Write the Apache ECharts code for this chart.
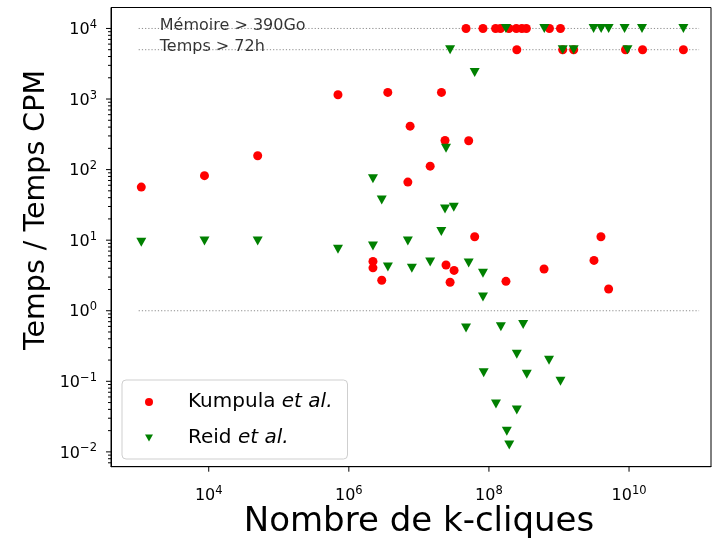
<!DOCTYPE html>
<html><head><meta charset="utf-8">
<script src="https://cdn.jsdelivr.net/npm/echarts@6/dist/echarts.min.js"></script>
<style>html,body{margin:0;padding:0;background:#fff}#c{width:719px;height:543px}</style>
</head><body><div id="c"></div>
<script>
// ---- data ----
const kumpulaX = [1.09e3, 8.7e3, 5.0e4, 7.0e5, 3.6e6, 2.1e7, 7.5e6, 2.36e7, 5.14e7, 1.45e7, 6.96e6, 6.26e7,
  2.21e6, 2.21e6, 2.95e6, 2.44e7, 3.18e7, 2.79e7, 1.75e8, 6.12e8, 3.97e9, 3.16e9, 5.11e9,
  4.71e7, 8.22e7, 1.245e8, 1.46e8, 1.93e8, 2.46e8, 2.95e8, 3.42e8, 7.31e8, 1.05e9,
  2.5e8, 1.13e9, 1.62e9, 8.9e9, 1.56e10, 5.97e10];
const kumpulaY = [56.5, 82, 157, 1150, 1240, 1240, 413, 258, 256, 112, 66.5, 11.2,
  5.0, 4.05, 2.70, 4.44, 3.73, 2.53, 2.61, 3.90, 11.2, 5.17, 2.03,
  1e4, 1e4, 1e4, 1e4, 1e4, 1e4, 1e4, 1e4, 1e4, 1e4,
  5e3, 5e3, 5e3, 5e3, 5e3, 5e3];
const reidX = [1.09e3, 8.7e3, 5.0e4, 7.0e5, 2.21e6, 2.21e6, 2.95e6, 3.61e6, 6.96e6, 7.94e6, 1.45e7, 2.09e7,
  2.36e7, 3.15e7, 2.44e7, 6.26e7, 5.14e7, 8.22e7, 8.22e7, 4.71e7, 1.48e8, 3.08e8, 2.5e8, 7.21e8,
  8.41e7, 3.47e8, 1.05e9, 1.26e8, 2.5e8, 1.8e8, 1.95e8,
  1.75e8, 6.17e8, 3.12e9, 4.0e9, 5.11e9, 8.63e9, 1.53e10, 5.97e10,
  2.79e7, 1.13e9, 1.62e9, 9.5e9];
const reidY = [9.31, 9.71, 9.71, 7.41, 8.25, 74.1, 37.0, 4.16, 9.71, 3.99, 4.90, 13.3,
  27.6, 29.2, 200, 2382, 4.74, 3.39, 1.56, 0.569, 0.593, 0.638, 0.241, 0.198,
  0.132, 0.126, 0.100, 0.0477, 0.0392, 0.0196, 0.0125,
  1e4, 1e4, 1e4, 1e4, 1e4, 1e4, 1e4, 1e4,
  5e3, 5e3, 5e3, 5e3];
const thresholdY = [1e4, 5e3, 1];
const thresholdX = [1e3, 1e11];
const annotTexts = ['Mémoire > 390Go', 'Temps > 72h'];
const annotY = [1e4, 5e3];
const annotX = 2e3;
const xMajorTicks = [1e4, 1e6, 1e8, 1e10];
const yMajorTicks = [1e-2, 1e-1, 1e0, 1e1, 1e2, 1e3, 1e4];
const seriesNames = ['Kumpula et al.', 'Reid et al.'];

// ---- chart ----
const X_MIN = Math.pow(10, 2.605), X_MAX = Math.pow(10, 11.17);
const Y_MIN = Math.pow(10, -2.21), Y_MAX = Math.pow(10, 4.297);
const FONT = 'DejaVu Sans';

const yMinorTicks = [];
for (let k = -3; k <= 4; k++) for (let m = 2; m <= 9; m++) {
  const v = m * Math.pow(10, k);
  if (v > Y_MIN && v < Y_MAX) yMinorTicks.push(v);
}

function supLabel(v, step) {
  const l = Math.log10(v);
  const e = Math.round(l);
  if (Math.abs(l - e) > 1e-6) return '';
  if (step && e % step !== 0) return '';
  const s = e < 0 ? '\u2212' + (-e) : String(e);
  return '{b|10}{s|' + s + '}';
}
const labelRich = {
  b: {fontSize: 16, fontFamily: FONT, color: '#000', verticalAlign: 'bottom', lineHeight: 19},
  s: {fontSize: 11.5, fontFamily: FONT, color: '#000', verticalAlign: 'top', lineHeight: 9}
};

function tickSeries(data, vertical, len) {
  return {
    type: 'custom', silent: true, clip: false, z: 5,
    data: data,
    encode: {x: 0, y: 1},
    renderItem: function (params, api) {
      const p = api.coord([api.value(0), api.value(1)]);
      const shape = vertical
        ? {x1: p[0], y1: p[1], x2: p[0], y2: p[1] + len}
        : {x1: p[0] - len, y1: p[1], x2: p[0], y2: p[1]};
      return {type: 'line', shape: shape, style: {stroke: '#000', lineWidth: 1}};
    }
  };
}

const chart = echarts.init(document.getElementById('c'), null, {renderer: 'canvas'});
const dotted = {type: [1.2, 2], color: '#808080', width: 0.9};
chart.setOption({
  animation: false,
  backgroundColor: '#fff',
  grid: {left: 111, right: 8, top: 7.5, bottom: 76.3, show: true, borderColor: '#000', borderWidth: 1,
         containLabel: false, outerBoundsMode: 'none'},
  xAxis: {
    type: 'log', logBase: 10, min: X_MIN, max: X_MAX,
    axisLine: {show: true, lineStyle: {color: '#000', width: 1}},
    axisTick: {show: false}, splitLine: {show: false}, minorTick: {show: false},
    axisLabel: {margin: 18, formatter: function (v) { return supLabel(v, 2); }, rich: labelRich,
                showMinLabel: false, showMaxLabel: false}
  },
  yAxis: {
    type: 'log', logBase: 10, min: Y_MIN, max: Y_MAX,
    axisLine: {show: true, lineStyle: {color: '#000', width: 1}},
    axisTick: {show: false}, splitLine: {show: false}, minorTick: {show: false},
    axisLabel: {margin: 14, formatter: function (v) { return supLabel(v, 0); }, rich: labelRich,
                showMinLabel: false, showMaxLabel: false}
  },
  legend: {
    data: seriesNames, orient: 'vertical', left: 122, top: 380,
    padding: [12, 15, 11, 23], itemGap: 16, itemWidth: 8, itemHeight: 8,
    borderColor: '#cfcfcf', borderWidth: 1, borderRadius: 4, backgroundColor: 'rgba(255,255,255,0.8)',
    formatter: function (name) {
      const parts = name.split(' ');
      return '{n|' + parts[0] + ' }{i|' + parts.slice(1).join(' ') + '}';
    },
    textStyle: {fontSize: 20, fontFamily: FONT, color: '#000',
      rich: {n: {fontSize: 20, fontFamily: FONT, color: '#000', padding: [0, 0, 0, 30]},
             i: {fontSize: 20, fontFamily: FONT, color: '#000', fontStyle: 'italic'}}}
  },
  graphic: [
    {type: 'text', x: 419, y: 522, style: {text: 'Nombre de k-cliques', fontSize: 34, fontFamily: FONT, fill: '#000', align: 'center', verticalAlign: 'middle'}},
    {type: 'text', x: 37, y: 210, rotation: Math.PI / 2, style: {text: 'Temps / Temps CPM', fontSize: 28.5, fontFamily: FONT, fill: '#000', align: 'center', verticalAlign: 'middle'}}
  ],
  series: [
    ...thresholdY.map(function (y) {
      return {type: 'line', silent: true, symbol: 'none', z: 1, lineStyle: dotted,
              data: thresholdX.map(function (x) { return [x, y]; })};
    }),
    {
      type: 'scatter', silent: true, z: 1, symbol: 'circle', symbolSize: 0.1,
      itemStyle: {color: 'transparent'},
      data: annotY.map(function (y, i) { return [annotX, y, annotTexts[i]]; }),
      label: {show: true, position: 'right', distance: 0, align: 'left', verticalAlign: 'bottom', offset: [0, 5],
              fontSize: 16, fontFamily: FONT, color: '#000', lineHeight: 16,
              formatter: function (p) { return p.data[2]; }}
    },
    {
      name: seriesNames[0], type: 'scatter', z: 3, symbol: 'circle', symbolSize: 9,
      itemStyle: {color: '#ff0000', opacity: 1},
      data: kumpulaX.map(function (x, i) { return [x, kumpulaY[i]]; })
    },
    {
      name: seriesNames[1], type: 'scatter', z: 4, symbol: 'path://M0,0L2,0L1,1.8Z', symbolSize: [10, 9],
      itemStyle: {color: '#008000', opacity: 1},
      data: reidX.map(function (x, i) { return [x, reidY[i]]; })
    },
    tickSeries(xMajorTicks.map(function (v) { return [v, Y_MIN]; }), true, 5),
    tickSeries(yMajorTicks.map(function (v) { return [X_MIN, v]; }), false, 5),
    tickSeries(yMinorTicks.map(function (v) { return [X_MIN, v]; }), false, 3)
  ]
});
</script>
</body></html>
